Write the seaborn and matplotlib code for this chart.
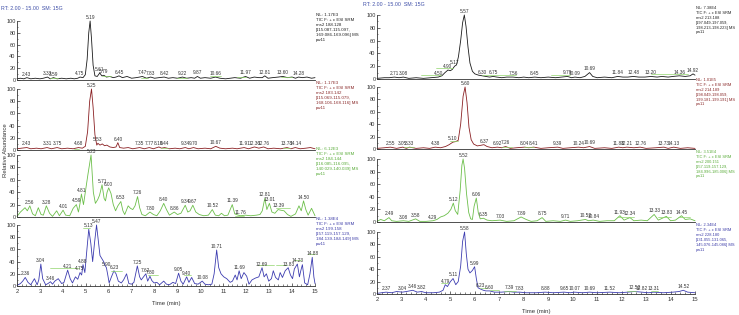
import numpy as np
import matplotlib
matplotlib.use("Agg")
import matplotlib.pyplot as plt
from matplotlib.ticker import MultipleLocator
import seaborn as sns

sns.set_theme(style="ticks")
plt.rcParams['font.family'] = ['Liberation Sans', 'DejaVu Sans']

# ---- chromatogram traces (retention time [min], relative abundance [%]) ----
trace_l1 = [(2.0,2),(2.15,3),(2.3,2),(2.43,4),(2.6,2),(2.8,3),(3.0,2),(3.15,3),(3.33,5),(3.45,2),(3.59,4),(3.75,2),
            (3.95,3),(4.15,2),(4.35,3),(4.5,2),(4.65,3),(4.75,5),(4.88,4),(4.98,9),(5.06,35),(5.13,80),(5.19,100),
            (5.25,70),(5.32,25),(5.4,7),(5.5,6),(5.61,12),(5.7,7),(5.79,8),(5.9,5),(6.05,6),(6.2,4),(6.32,5),(6.45,7),
            (6.6,4),(6.8,6),(7.0,3),(7.2,4),(7.35,5),(7.47,6),(7.65,3),(7.83,5),(8.0,3),(8.2,4),(8.42,5),(8.6,3),
            (8.8,4),(9.0,3),(9.22,5),(9.4,3),(9.6,4),(9.75,3),(9.87,6),(10.0,3),(10.2,4),(10.45,3),(10.66,5),
            (10.85,3),(11.1,2),(11.3,3),(11.5,4),(11.75,3),(11.97,6),(12.15,3),(12.35,5),(12.55,4),(12.7,4),
            (12.81,7),(12.95,3),(13.15,4),(13.4,5),(13.6,6),(13.8,4),(14.0,5),(14.15,3),(14.28,5),(14.45,4),
            (14.65,5),(14.85,3),(15.0,4)]
trace_l2 = [(2.0,2),(2.2,3),(2.43,4),(2.6,2),(2.85,3),(3.05,2),(3.31,4),(3.5,2),(3.75,4),(3.95,2),(4.2,3),(4.45,2),
            (4.68,4),(4.85,3),(4.98,6),(5.08,30),(5.17,80),(5.25,100),(5.32,70),(5.4,25),(5.48,8),(5.53,11),
            (5.62,8),(5.72,10),(5.82,7),(5.92,8),(6.05,5),(6.2,4),(6.32,5),(6.40,12),(6.48,4),(6.65,3),(6.85,4),
            (7.05,2),(7.35,4),(7.55,2),(7.77,4),(7.95,2),(8.19,5),(8.3,3),(8.44,4),(8.65,2),(8.9,3),(9.1,2),
            (9.34,4),(9.5,2),(9.70,4),(9.9,2),(10.2,3),(10.45,2),(10.67,6),(10.85,3),(11.1,2),(11.4,3),(11.6,2),
            (11.91,4),(12.1,2),(12.36,5),(12.55,3),(12.76,5),(12.95,2),(13.2,3),(13.5,2),(13.78,4),(13.95,2),
            (14.14,4),(14.35,2),(14.6,3),(14.8,4),(15.0,2)]
trace_l3 = [(2.0,1),(2.15,8),(2.35,15),(2.45,10),(2.56,18),(2.68,5),(2.8,2),(2.93,15),(3.05,4),(3.15,3),(3.28,18),
            (3.42,6),(3.55,1),(3.73,10),(3.85,2),(4.01,11),(4.12,3),(4.3,2),(4.45,14),(4.59,20),(4.68,8),(4.75,22),
            (4.81,37),(4.9,20),(5.0,45),(5.1,70),(5.23,100),(5.33,40),(5.42,22),(5.52,28),(5.6,35),(5.71,52),
            (5.8,30),(5.86,26),(5.93,40),(6.00,47),(6.1,38),(6.2,20),(6.3,10),(6.4,18),(6.53,25),(6.62,10),(6.7,4),
            (6.85,18),(6.95,14),(7.05,12),(7.15,18),(7.26,33),(7.35,15),(7.45,4),(7.6,2),(7.80,8),(7.95,4),(8.1,2),
            (8.25,10),(8.40,22),(8.52,12),(8.65,3),(8.86,8),(9.0,4),(9.15,6),(9.34,19),(9.45,8),(9.55,10),(9.67,19),
            (9.8,8),(9.95,4),(10.15,2),(10.35,3),(10.52,12),(10.65,3),(10.8,2),(10.92,6),(11.05,2),(11.2,3),
            (11.39,20),(11.5,5),(11.65,3),(11.76,2),(11.95,3),(12.2,2),(12.45,3),(12.6,4),(12.7,10),(12.81,30),
            (12.9,12),(13.01,22),(13.12,8),(13.25,6),(13.39,12),(13.5,11),(13.65,10),(13.8,4),(13.95,1),(14.15,5),
            (14.3,18),(14.4,10),(14.50,26),(14.6,12),(14.7,3),(14.85,14),(15.0,2)]
trace_l4 = [(2.0,1),(2.15,4),(2.25,8),(2.36,14),(2.48,6),(2.6,2),(2.76,12),(2.88,2),(2.95,10),(3.04,36),(3.12,12),
            (3.25,2),(3.35,4),(3.46,7),(3.55,3),(3.65,8),(3.8,12),(3.95,4),(4.05,6),(4.21,26),(4.32,12),(4.42,5),
            (4.55,15),(4.65,11),(4.75,22),(4.82,18),(4.88,35),(4.96,22),(5.05,60),(5.13,93),(5.22,70),(5.3,40),
            (5.38,70),(5.47,100),(5.56,70),(5.62,50),(5.7,45),(5.78,40),(5.84,34),(5.90,30),(5.96,18),(6.02,5),
            (6.12,15),(6.23,25),(6.32,20),(6.42,8),(6.55,5),(6.65,10),(6.78,20),(6.88,4),(7.0,3),(7.1,6),(7.25,33),
            (7.35,15),(7.42,10),(7.5,14),(7.62,20),(7.7,8),(7.80,16),(7.88,9),(7.98,5),(8.1,6),(8.22,2),(8.4,8),
            (8.52,3),(8.65,2),(8.8,6),(8.92,4),(9.05,21),(9.15,8),(9.25,3),(9.40,15),(9.5,6),(9.62,14),(9.75,4),
            (9.9,3),(10.08,8),(10.2,3),(10.35,2),(10.5,3),(10.6,20),(10.71,59),(10.8,30),(10.9,20),(11.02,15),
            (11.15,12),(11.3,6),(11.4,8),(11.52,18),(11.6,10),(11.69,25),(11.78,12),(11.9,22),(12.02,16),(12.12,3),
            (12.25,10),(12.4,13),(12.55,15),(12.69,30),(12.78,15),(12.88,20),(12.98,8),(13.1,12),(13.18,25),
            (13.28,14),(13.4,10),(13.48,22),(13.58,14),(13.7,25),(13.83,30),(13.93,18),(14.02,12),(14.1,28),
            (14.23,36),(14.32,15),(14.38,25),(14.45,35),(14.55,5),(14.68,2),(14.78,20),(14.88,47),(14.95,15),(15.0,4)]

trace_r1 = [(2.0,1),(2.3,2),(2.5,2),(2.71,3),(2.9,2),(3.08,3),(3.3,1),(3.6,2),(3.9,1),(4.2,2),(4.5,3),(4.65,5),
            (4.78,10),(4.90,14),(5.0,13),(5.08,15),(5.17,20),(5.25,22),(5.33,35),(5.42,60),(5.5,88),(5.57,100),
            (5.64,82),(5.72,50),(5.8,25),(5.9,12),(6.0,8),(6.15,6),(6.30,5),(6.45,4),(6.6,3),(6.75,4),(6.9,3),
            (7.1,2),(7.3,3),(7.56,3),(7.8,2),(8.0,3),(8.2,2),(8.45,3),(8.7,2),(9.0,3),(9.3,2),(9.55,3),(9.79,4),
            (9.95,2),(10.09,3),(10.3,2),(10.5,4),(10.69,10),(10.82,4),(11.0,2),(11.3,3),(11.6,2),(11.84,4),
            (12.05,3),(12.25,3),(12.48,4),(12.7,3),(12.95,3),(13.20,4),(13.45,3),(13.65,4),(13.9,3),(14.1,4),
            (14.36,5),(14.6,4),(14.8,5),(14.92,8),(15.0,6)]
trace_r2 = [(2.0,1),(2.3,2),(2.55,3),(2.8,1),(3.05,3),(3.2,1),(3.33,3),(3.6,1),(3.9,2),(4.15,1),(4.38,3),(4.6,2),
            (4.8,4),(4.95,7),(5.10,11),(5.22,12),(5.32,14),(5.42,40),(5.52,85),(5.60,100),(5.68,75),(5.76,35),
            (5.85,15),(5.95,8),(6.1,5),(6.25,6),(6.37,7),(6.5,4),(6.7,2),(6.92,3),(7.1,2),(7.26,4),(7.45,1),(7.7,2),
            (8.04,3),(8.2,2),(8.41,3),(8.7,1),(9.0,2),(9.39,3),(9.6,1),(9.9,2),(10.24,3),(10.45,2),(10.69,4),
            (10.9,1),(11.3,2),(11.6,1),(11.88,3),(12.05,2),(12.21,3),(12.5,2),(12.76,3),(13.0,1),(13.4,2),
            (13.73,3),(13.9,1),(14.13,3),(14.4,1),(14.7,2),(15.0,1)]
trace_r3 = [(2.0,1),(2.15,4),(2.3,2),(2.49,7),(2.6,2),(2.8,1),(3.08,2),(3.3,1),(3.58,5),(3.75,1),(4.0,1),(4.29,2),
            (4.45,4),(4.6,8),(4.75,10),(4.9,14),(5.02,20),(5.12,30),(5.2,18),(5.3,12),(5.4,50),(5.47,90),(5.52,100),
            (5.58,85),(5.66,45),(5.75,15),(5.83,5),(5.9,4),(5.97,25),(6.06,38),(6.14,15),(6.22,5),(6.35,6),(6.5,3),
            (6.7,2),(7.03,3),(7.3,1),(7.6,2),(7.89,8),(8.1,4),(8.3,1),(8.55,2),(8.75,7),(8.9,1),(9.2,2),(9.5,1),
            (9.71,3),(9.9,1),(10.2,2),(10.52,4),(10.65,2),(10.84,3),(11.1,1),(11.4,2),(11.7,2),(11.93,10),(12.1,3),
            (12.34,7),(12.5,2),(12.8,3),(13.05,2),(13.33,12),(13.5,3),(13.83,9),(14.0,2),(14.2,3),(14.45,10),
            (14.6,4),(14.8,5),(15.0,2)]
trace_r4 = [(2.0,1),(2.37,3),(2.6,2),(2.8,4),(3.04,3),(3.2,4),(3.46,6),(3.65,3),(3.82,4),(4.0,2),(4.3,2),(4.55,3),
            (4.7,6),(4.79,15),(4.88,12),(5.0,20),(5.11,25),(5.22,15),(5.32,20),(5.42,45),(5.50,85),(5.58,100),
            (5.65,65),(5.72,40),(5.8,34),(5.9,38),(5.99,44),(6.06,25),(6.13,10),(6.23,8),(6.35,6),(6.45,5),(6.60,5),
            (6.8,3),(7.1,3),(7.39,4),(7.6,3),(7.83,3),(8.1,2),(8.5,2),(8.88,3),(9.2,2),(9.65,3),(9.9,2),(10.07,3),
            (10.4,2),(10.69,3),(11.0,2),(11.52,3),(11.9,2),(12.25,3),(12.52,4),(12.82,3),(13.1,2),(13.31,3),
            (13.7,2),(14.1,3),(14.35,4),(14.52,6),(14.7,3),(15.0,2)]

# ---- labelled peak apex times ----
peaks_l1 = [2.43,3.33,3.59,4.75,5.19,5.61,5.79,6.45,7.47,7.83,8.42,9.22,9.87,10.66,11.97,12.81,13.60,14.28]
peaks_l2 = [2.43,3.31,3.75,4.68,5.25,5.53,6.40,7.35,7.77,8.19,8.44,9.34,9.70,10.67,11.91,12.36,12.76,13.78,14.14]
peaks_l3 = [2.56,3.28,4.01,4.59,4.81,5.23,5.71,6.00,6.53,7.26,7.80,8.40,8.86,9.34,9.67,10.52,11.39,11.76,
            12.81,13.01,13.39,14.50]
peaks_l4 = [2.36,3.04,3.46,4.21,4.75,4.88,5.13,5.47,5.90,6.23,7.25,7.62,7.80,9.05,9.40,10.08,10.71,11.69,
            12.69,13.83,14.23,14.88]
peaks_r1 = [2.71,3.08,4.50,4.90,5.17,5.57,6.30,6.75,7.56,8.45,9.79,10.09,10.69,11.84,12.48,13.20,14.36,14.92]
peaks_r2 = [2.55,3.05,3.33,4.38,5.10,5.60,6.37,6.92,7.26,8.04,8.41,9.39,10.24,10.69,11.88,12.21,12.76,13.73,14.13]
peaks_r3 = [2.49,3.08,3.58,4.29,5.12,5.52,6.06,6.35,7.03,7.89,8.75,9.71,10.52,10.84,11.93,12.34,13.33,13.83,14.45]
peaks_r4 = [2.37,3.04,3.46,3.82,4.79,5.11,5.58,5.99,6.23,6.60,7.39,7.83,8.88,9.65,10.07,10.69,11.52,12.52,
            12.82,13.31,14.52]

# ---- green label connector segments (t start, t end, abundance) ----
segs_l1 = [(3.45,3.8,4),(5.7,6.1,7),(7.4,7.7,4),(9.0,9.4,4),(10.4,10.9,6),(11.6,12.0,5),(13.5,14.0,5)]
segs_l2 = [(4.5,4.7,2),(8.3,8.6,3),(13.6,13.9,4)]
segs_l3 = [(11.5,11.9,2),(13.3,13.9,15)]
segs_l4 = [(3.45,4.18,30),(4.2,4.7,30),(4.88,5.18,95),(6.1,6.6,25),(7.7,8.15,18),(9.3,9.6,18),
           (12.5,13.2,35),(13.3,13.8,35),(14.1,14.4,43),(14.7,15.0,52)]
segs_r1 = [(3.8,4.6,6),(4.4,5.1,17),(6.3,7.7,6),(9.1,9.9,6),(13.2,14.7,8)]
segs_r2 = [(3.1,3.5,3),(5.0,5.3,13),(7.1,7.5,4),(8.0,8.4,3)]
segs_r3 = [(11.8,12.5,8),(13.5,14.0,8),(14.3,14.8,8)]
segs_r4 = [(4.6,4.9,17),(6.2,6.5,10),(6.6,7.0,7),(7.2,7.7,5),(12.2,12.6,5),(13.2,13.5,5)]

# ---- header / info blocks ----
nl_left = ["1.17E3", "1.17E3", "6.12E3", "1.38E4"]
ms2_left = ["188.128", "183.142", "184.144", "199.158"]
rng_left = [("115.087-115.097", "169.086-169.096"), ("115.069-115.079", "168.106-168.116"),
            ("116.085-116.095", "140.029-140.039"), ("157.119-157.129", "184.139-184.149")]
nl_right = ["7.38E4", "1.01E5", "3.51E4", "2.34E4"]
ms2_right = ["213.188", "214.189", "200.151", "228.180"]
rng_right = [("197.049-197.059", "198.213-198.223"), ("198.049-198.059", "199.181-199.191"),
             ("157.119-157.129", "184.996-185.006"), ("131.055-131.065", "145.076-145.086")]

line_colors = ["#1a1a1a", "#8a1f22", "#6cbf4a", "#3c3cb0"]
text_colors = ["#222222", "#8a2a2a", "#5aac3a", "#3c3ca8"]
seg_color = "#8fd46a"

W, H = 739, 315
fig = plt.figure(figsize=(W / 100, H / 100), dpi=100)

# pixel layout: (x of t=2, x of t=15, y of 0 %, y of 100 %)
cols = [
    dict(x0=17, x1=315, zero=[80, 150, 217, 286], top=[21, 89, 155, 225],
         traces=[trace_l1, trace_l2, trace_l3, trace_l4],
         peaks=[peaks_l1, peaks_l2, peaks_l3, peaks_l4],
         segs=[segs_l1, segs_l2, segs_l3, segs_l4],
         nl=nl_left, ms2=ms2_left, rng=rng_left, tx=316, toff=6, fs=3.2, time_y=303),
    dict(x0=377, x1=695, zero=[79, 149, 222, 294], top=[15, 87, 159, 232],
         traces=[trace_r1, trace_r2, trace_r3, trace_r4],
         peaks=[peaks_r1, peaks_r2, peaks_r3, peaks_r4],
         segs=[segs_r1, segs_r2, segs_r3, segs_r4],
         nl=nl_right, ms2=ms2_right, rng=rng_right, tx=696, toff=7, fs=2.9, time_y=311),
]

for col in cols:
    for i in range(4):
        y0, y100 = col["zero"][i], col["top"][i]
        ax = fig.add_axes([col["x0"] / W, 1 - y0 / H, (col["x1"] - col["x0"]) / W, (y0 - y100) / H])
        ax.set_facecolor("none")
        t = np.array([p[0] for p in col["traces"][i]])
        a = np.array([p[1] for p in col["traces"][i]])
        sns.lineplot(x=t, y=a, ax=ax, color=line_colors[i], linewidth=0.6, sort=False)
        ax.lines[-1].set_clip_on(False)
        for s0, s1, sy in col["segs"][i]:
            ax.plot([s0, s1], [sy, sy], color=seg_color, linewidth=0.5, clip_on=False)
        for pk in col["peaks"][i]:
            ax.annotate(f"{pk:.2f}", (pk, np.interp(pk, t, a)), xytext=(0, 0.8), textcoords="offset points",
                        ha="center", va="bottom", fontsize=3.4, color="#333333", annotation_clip=False)
        ax.set_xlim(2, 15)
        ax.set_ylim(0, 100)
        ax.set_xlabel("")
        ax.set_ylabel("")
        for side in ["top", "right"]:
            ax.spines[side].set_visible(False)
        for side in ["left", "bottom"]:
            ax.spines[side].set_linewidth(0.6)
            ax.spines[side].set_color("#333333")
        ax.set_yticks([0, 20, 40, 60, 80, 100])
        ax.yaxis.set_minor_locator(MultipleLocator(10))
        ax.tick_params(axis="y", which="major", direction="in", length=2, width=0.5, labelsize=4, pad=1,
                       colors="#333333")
        ax.tick_params(axis="y", which="minor", direction="in", length=1, width=0.4)
        ax.xaxis.set_major_locator(MultipleLocator(1))
        ax.xaxis.set_minor_locator(MultipleLocator(0.2))
        if i == 3:
            ax.tick_params(axis="x", which="major", direction="in", length=2.5, width=0.5, labelsize=4.2,
                           pad=2, colors="#333333")
            ax.tick_params(axis="x", which="minor", direction="in", length=1.2, width=0.4)
        else:
            ax.tick_params(axis="x", which="both", length=0, labelbottom=False)

        # info block
        lines = [f"NL: {col['nl'][i]}", "TIC F: + c ESI SRM", f"ms2 {col['ms2'][i]}",
                 f"[{col['rng'][i][0]},", f"{col['rng'][i][1]}] MS", "pw11"]
        for k, ln in enumerate(lines):
            fig.text(col["tx"] / W, 1 - (y100 - col["toff"] + k * 4.9) / H, ln, fontsize=col["fs"],
                     color=text_colors[i], ha="left", va="center")

    fig.text((col["x0"] + col["x1"]) / 2 / W, 1 - col["time_y"] / H, "Time (min)", fontsize=4.3,
             ha="center", va="center", color="#333333")

fig.text(1 / W, 1 - 9 / H, "RT: 2.00 - 15.00  SM: 15G", fontsize=3.8, color="#3f4fa8", ha="left", va="center")
fig.text(363 / W, 1 - 5 / H, "RT: 2.00 - 15.00  SM: 15G", fontsize=3.8, color="#3f4fa8", ha="left", va="center")
fig.text(6 / W, 1 - 150 / H, "Relative Abundance", fontsize=4.3, rotation=90, ha="center", va="center",
         color="#333333")

fig.savefig("out.png", dpi=100, facecolor="white")
